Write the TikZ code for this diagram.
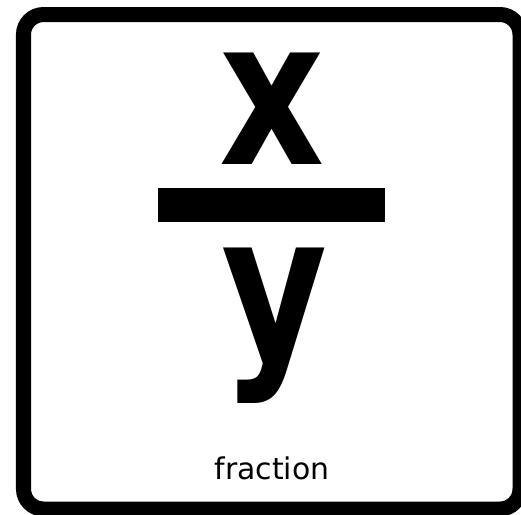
\documentclass[tikz,border=0pt]{standalone}
\usepackage{graphicx}
\usepackage{fontspec}
\setmainfont{DejaVu Sans}

\begin{document}
\begin{tikzpicture}[
    x=0.01cm,
    y=-0.01cm,
    frame/.style={line width=0.15cm, draw=black, rounded corners=0.2cm},
    glyph/.style={inner sep=0pt, font=\fontsize{58pt}{60pt}\selectfont\bfseries},
    caption/.style={inner sep=0pt, anchor=base west, font=\fontsize{8.5pt}{10pt}\selectfont}
]

% 1. Canvas
\useasboundingbox (0, 0) rectangle (521, 514);
\fill[white] (0, 0) rectangle (521, 514);

% 2. Card frame (runs off the right and bottom edges)
\draw[frame] (23.5, 14.5) rectangle (520, 509);

% 3. Numerator, bar, denominator
\node[glyph] (numer) at (272.5, 108.5) {\scalebox{0.8}[1]{x}};
\fill[black] (158, 188) rectangle (385, 222);
\node[glyph] (denom) at (275, 326) {\scalebox{0.8}[1]{y}};

% 4. Caption
\node[caption] (label) at (214, 479) {fraction};

\end{tikzpicture}
\end{document}
